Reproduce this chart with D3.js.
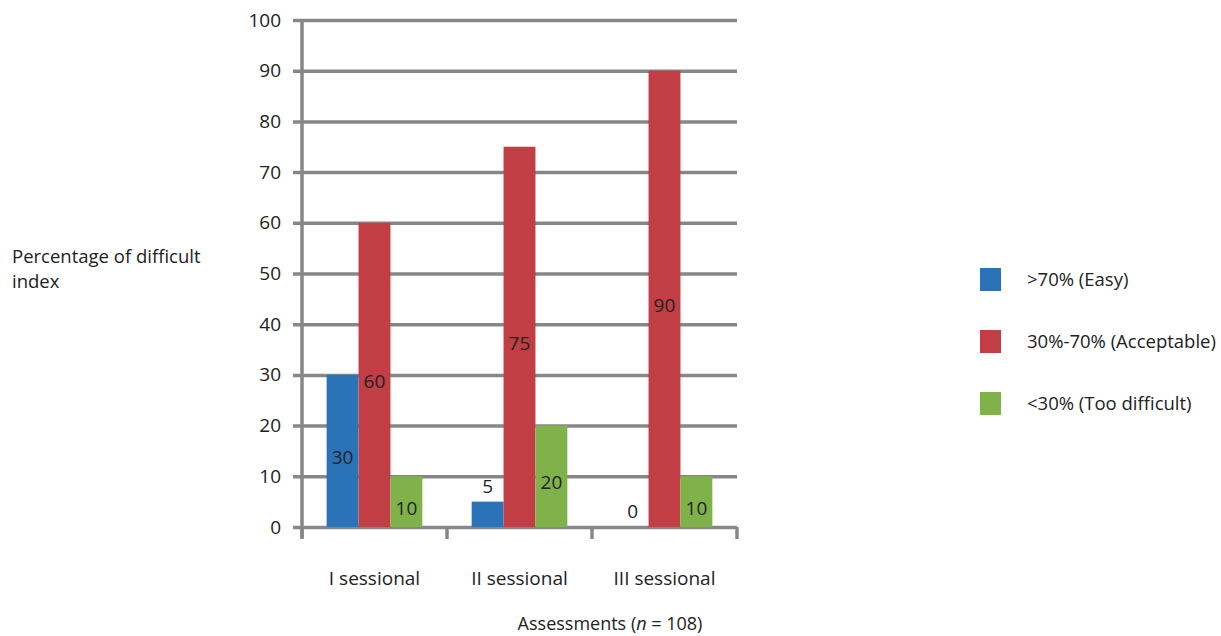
<!DOCTYPE html>
<html>
<head>
<meta charset="utf-8">
<script src="https://cdn.jsdelivr.net/npm/d3@7"></script>
<style>
  body { margin: 0; background: #fff; }
  text { font-family: "Open Sans", "Noto Sans", sans-serif; fill: #222; }
</style>
</head>
<body>
<div id="chart-area"></div>
<script>
// DATA
const categories = ["I sessional", "II sessional", "III sessional"]
const seriesNames = [">70% (Easy)", "30%-70% (Acceptable)", "<30% (Too difficult)"]
const easy = [30, 5, 0]
const acceptable = [60, 75, 90]
const tooDifficult = [10, 20, 10]
const yTicks = [0, 10, 20, 30, 40, 50, 60, 70, 80, 90, 100]

const COLORS = ["#2a73b8", "#c03e44", "#80b24a"]

// AREA
const AREA_WIDTH = 1221
const AREA_HEIGHT = 636
const PLOT = { LEFT: 302, RIGHT: 737, TOP: 20, BOTTOM: 527 }

const svg = d3.select("#chart-area").append("svg")
	.attr("width", AREA_WIDTH)
	.attr("height", AREA_HEIGHT)

// table built from the arrays
const table = categories.map((c, i) => ({ cat: c, values: [easy[i], acceptable[i], tooDifficult[i]] }))

// SCALES
const x0 = d3.scaleBand()
	.domain(categories)
	.range([PLOT.LEFT, PLOT.RIGHT])
	.paddingInner(0.34)
	.paddingOuter(0.17)

const x1 = d3.scaleBand()
	.domain(d3.range(seriesNames.length))
	.range([0, x0.bandwidth()])

const y = d3.scaleLinear()
	.domain([0, 100])
	.range([PLOT.BOTTOM, PLOT.TOP])

// GRIDLINES (y axis with long ticks)
const yAxisCall = d3.axisLeft(y)
	.tickValues(yTicks)
	.tickSize(-(PLOT.RIGHT - PLOT.LEFT) - 9)
	.tickPadding(12)

const yAxis = svg.append("g")
	.attr("transform", `translate(${PLOT.LEFT - 9},0)`)
	.call(yAxisCall)
yAxis.select(".domain").remove()
yAxis.selectAll("line")
	.attr("stroke", "#878787")
	.attr("stroke-width", 3.5)
yAxis.selectAll("text")
	.attr("font-size", "19px")

// vertical axis line
svg.append("line")
	.attr("x1", PLOT.LEFT).attr("x2", PLOT.LEFT)
	.attr("y1", PLOT.TOP).attr("y2", PLOT.BOTTOM + 10)
	.attr("stroke", "#878787")
	.attr("stroke-width", 3.5)

// x axis category boundary ticks
const bounds = categories.map(c => x0(c) - x0.step() * x0.paddingInner() / 2)
bounds[0] = PLOT.LEFT
bounds.push(PLOT.RIGHT)
svg.selectAll(".xtick")
	.data(bounds)
	.enter().append("line")
	.attr("class", "xtick")
	.attr("x1", d => d).attr("x2", d => d)
	.attr("y1", PLOT.BOTTOM).attr("y2", PLOT.BOTTOM + 12)
	.attr("stroke", "#878787")
	.attr("stroke-width", 3.5)

// category labels
svg.selectAll(".cat")
	.data(categories)
	.enter().append("text")
	.attr("class", "cat")
	.attr("x", d => x0(d) + x0.bandwidth() / 2)
	.attr("y", 585)
	.attr("text-anchor", "middle")
	.attr("font-size", "19px")
	.text(d => d)

// BARS
const groups = svg.selectAll(".grp")
	.data(table)
	.enter().append("g")
	.attr("class", "grp")
	.attr("transform", d => `translate(${x0(d.cat)},0)`)

groups.selectAll("rect")
	.data(d => d.values)
	.enter().append("rect")
	.attr("x", (d, i) => x1(i))
	.attr("width", x1.bandwidth())
	.attr("y", d => y(d))
	.attr("height", d => y(0) - y(d))
	.attr("fill", (d, i) => COLORS[i])

// value labels
groups.selectAll(".val")
	.data(d => d.values)
	.enter().append("text")
	.attr("class", "val")
	.attr("x", (d, i) => x1(i) + x1.bandwidth() / 2)
	.attr("y", d => d >= 10 ? (y(d) + y(0)) / 2 + 13 : y(d) - 9)
	.attr("text-anchor", "middle")
	.attr("font-size", "19px")
	.text(d => d)

// AXIS TITLES
const yLabel = svg.append("text")
	.attr("x", 12)
	.attr("y", 263)
	.attr("font-size", "18.5px")
yLabel.append("tspan").attr("x", 12).text("Percentage of difficult")
yLabel.append("tspan").attr("x", 12).attr("dy", 25).text("index")

const xLabel = svg.append("text")
	.attr("x", 610)
	.attr("y", 630)
	.attr("text-anchor", "middle")
	.attr("font-size", "18px")
xLabel.append("tspan").text("Assessments (")
xLabel.append("tspan").attr("font-style", "italic").text("n")
xLabel.append("tspan").text(" = 108)")

// LEGEND
const legend = svg.selectAll(".leg")
	.data(seriesNames)
	.enter().append("g")
	.attr("class", "leg")
	.attr("transform", (d, i) => `translate(980,${268 + i * 62})`)

legend.append("rect")
	.attr("width", 21)
	.attr("height", 23)
	.attr("fill", (d, i) => COLORS[i])

legend.append("text")
	.attr("x", 47)
	.attr("y", 18)
	.attr("font-size", "18.5px")
	.text(d => d)
</script>
</body>
</html>
